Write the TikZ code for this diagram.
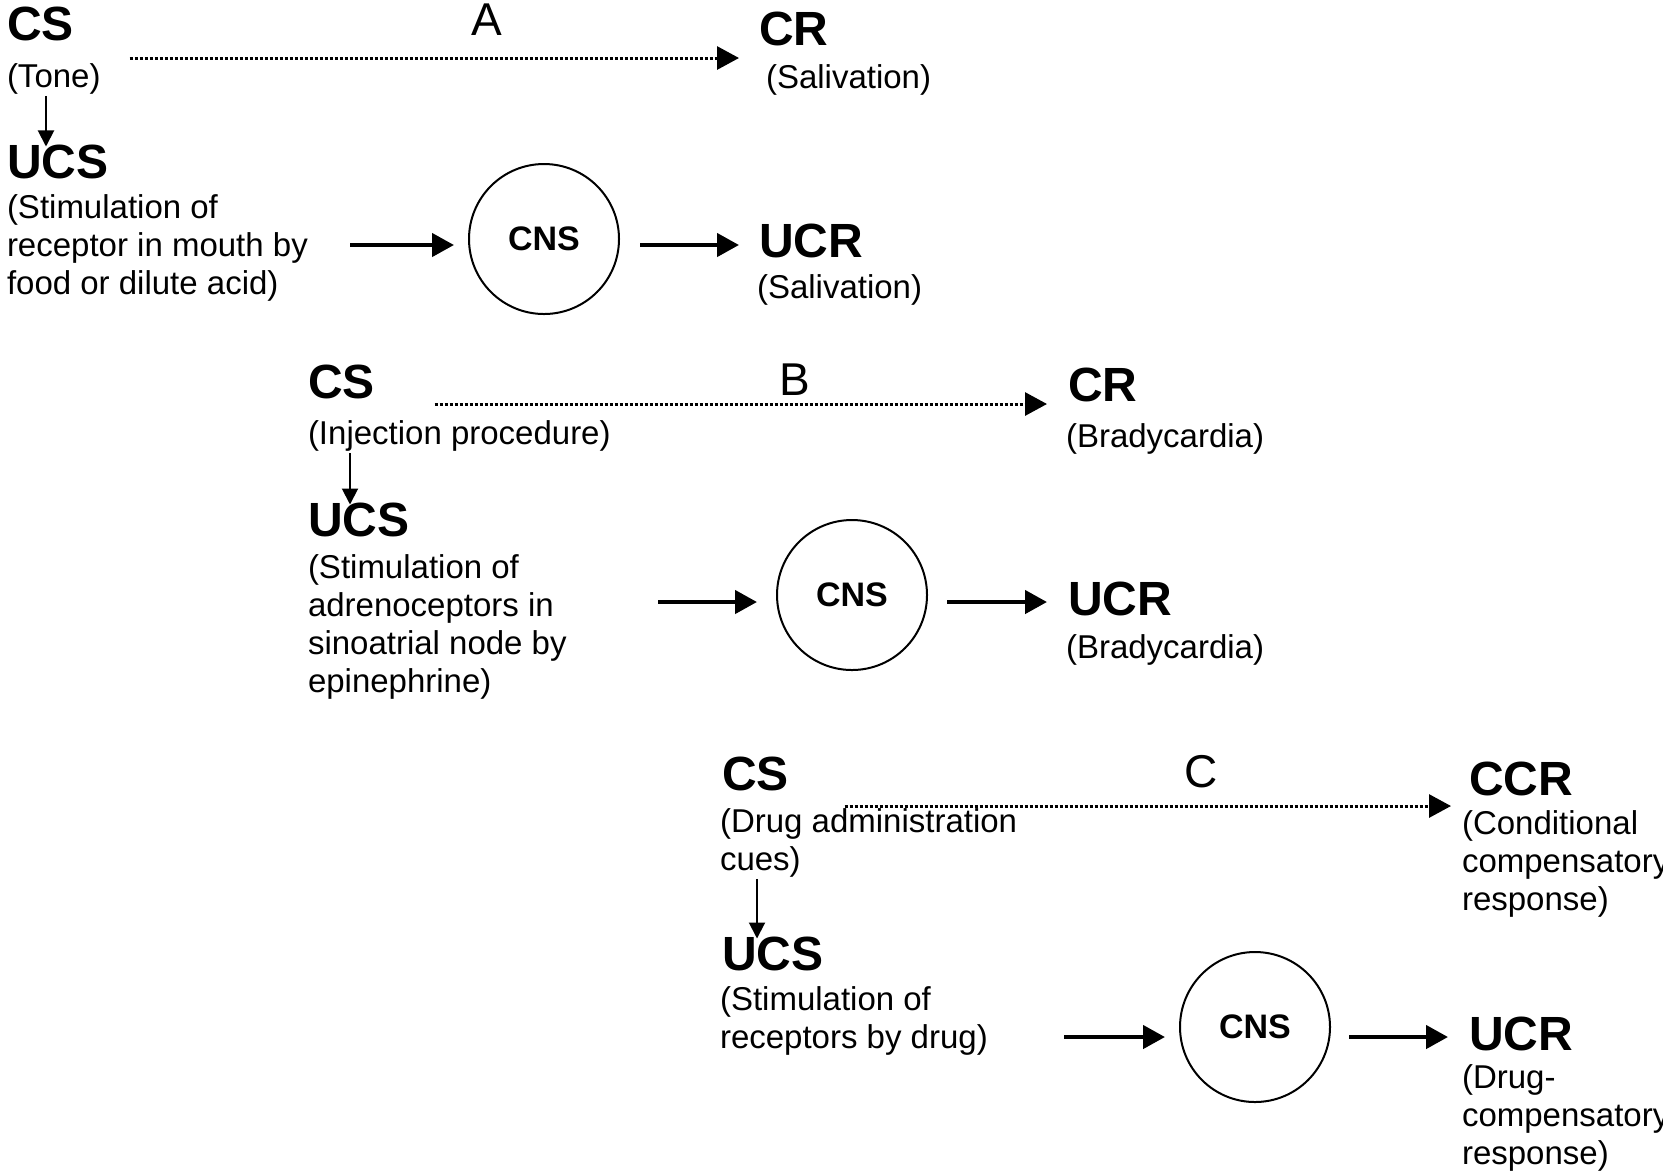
\documentclass[tikz,border=0pt]{standalone}
\usepackage{fontspec}
\setmainfont{Liberation Sans}
\usetikzlibrary{arrows.meta,calc}
\begin{document}
\begin{tikzpicture}[x=0.5pt,y=-0.5pt,
  every node/.style={inner sep=0pt, outer sep=0pt},
  head/.style={font=\fontsize{24}{28}\selectfont\bfseries, anchor=base west},
  % multi-line notes are placed by the baseline of their last line
  note/.style={font=\fontsize{16.5}{19}\selectfont, anchor=base west, align=left},
  tag/.style={font=\fontsize{23}{27}\selectfont, anchor=base},
  cns/.style={circle, draw, line width=1pt, minimum size=75pt, font=\fontsize{17}{20}\selectfont\bfseries},
  flow/.style={line width=2.2pt, -{Triangle[length=11pt,width=11.5pt]}},
  cue/.style={line width=1pt, -{Triangle[length=8pt,width=8pt]}},
  link/.style={line width=1.5pt, dash pattern=on 1.5pt off 1pt, -{Triangle[length=11pt,width=11.5pt]}},
]
\fill[white] (0,0) rectangle (1663,1175);
\useasboundingbox (0,0) rectangle (1663,1175);

% ---------- A: salivation ----------
\node[head] (csA) at (7,40) {CS};
\node[note] (toneA) at (7,87) {(Tone)};
\node[head] (ucsA) at (7,178) {UCS};
\node[note] (stimA) at (7,294) {(Stimulation of\\receptor in mouth by\\food or dilute acid)};
\node[cns] (cnsA) at (544,239) {CNS};
\node[head] (ucrA) at (759,257) {UCR};
\node[note] (salA) at (757,298) {(Salivation)};
\node[head] (crA) at (759,45) {CR};
\node[note] (salCA) at (766,88) {(Salivation)};
\node[tag] (labA) at (487,35) {A};

\coordinate (yA1) at (0,58);
\coordinate (yA2) at (0,245);
\coordinate (xA) at (46,0);
\draw[link, shorten <=28pt, shorten >=10pt] (csA.east |- yA1) -- (crA.west |- yA1);
\draw[cue, shorten <=1pt, shorten >=-1pt] (toneA.south -| xA) -- (ucsA.north -| xA);
\draw[flow, shorten >=7.5pt] ($(cnsA.west |- yA2)+(-119,0)$) -- (cnsA.west |- yA2);
\draw[flow, shorten <=10.5pt, shorten >=10pt] (cnsA.east |- yA2) -- (ucrA.west |- yA2);

% ---------- B: bradycardia ----------
\node[head] (csB) at (308,398) {CS};
\node[note] (injB) at (308,444) {(Injection procedure)};
\node[head] (ucsB) at (308,536) {UCS};
\node[note] (stimB) at (308,692) {(Stimulation of\\adrenoceptors in\\sinoatrial node by\\epinephrine)};
\node[cns] (cnsB) at (852,595) {CNS};
\node[head] (ucrB) at (1068,615) {UCR};
\node[note] (bradyB) at (1066,658) {(Bradycardia)};
\node[head] (crB) at (1068,401) {CR};
\node[note] (bradyCB) at (1066,447) {(Bradycardia)};
\node[tag] (labB) at (795,395) {B};

\coordinate (yB1) at (0,404);
\coordinate (yB2) at (0,602);
\coordinate (xB) at (350,0);
\draw[link, shorten <=30pt, shorten >=10.5pt] (csB.east |- yB1) -- (crB.west |- yB1);
\draw[cue, shorten <=1pt, shorten >=-1pt] (injB.south -| xB) -- (ucsB.north -| xB);
\draw[flow, shorten >=10pt] ($(cnsB.west |- yB2)+(-119,0)$) -- (cnsB.west |- yB2);
\draw[flow, shorten <=10pt, shorten >=10.5pt] (cnsB.east |- yB2) -- (ucrB.west |- yB2);

% ---------- C: drug tolerance ----------
\node[head] (csC) at (722,790) {CS};
\node[note] (drugC) at (720,870) {(Drug administration\\cues)};
\node[head] (ucsC) at (722,970) {UCS};
\node[note] (stimC) at (720,1048) {(Stimulation of\\receptors by drug)};
\node[cns] (cnsC) at (1255,1027) {CNS};
\node[head] (ucrC) at (1469,1050) {UCR};
\node[note] (compC) at (1462,1164) {(Drug-\\compensatory\\response)};
\node[head] (ccrC) at (1469,795) {CCR};
\node[note] (condC) at (1462,910) {(Conditional\\compensatory\\response)};
\node[tag] (labC) at (1201,787) {C};

\coordinate (yC1) at (0,806);
\coordinate (yC2) at (0,1037);
\coordinate (xC) at (757,0);
\draw[link, shorten <=28pt, shorten >=9pt] (csC.east |- yC1) -- (ccrC.west |- yC1);
\draw[cue, shorten <=1pt, shorten >=-1pt] (drugC.south -| xC) -- (ucsC.north -| xC);
\draw[flow, shorten >=7.5pt] ($(cnsC.west |- yC2)+(-116,0)$) -- (cnsC.west |- yC2);
\draw[flow, shorten <=9.5pt, shorten >=10.5pt] (cnsC.east |- yC2) -- (ucrC.west |- yC2);
\end{tikzpicture}
\end{document}
